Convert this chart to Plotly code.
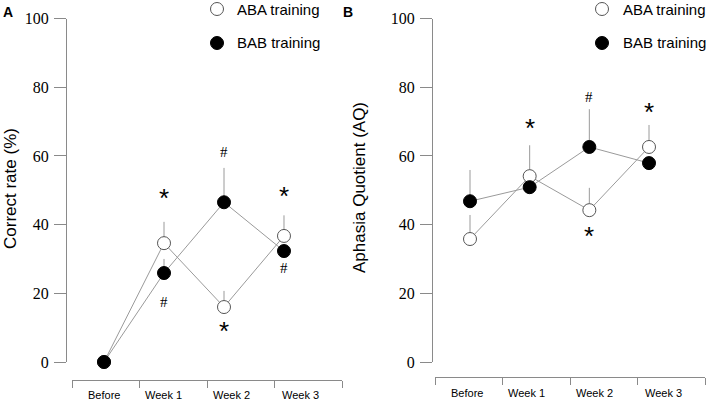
import plotly.graph_objects as go

# x positions of the sessions on the hidden data axis
sessions = [0, 1, 2, 3]
session_labels = ["Before", "Week 1", "Week 2", "Week 3"]
label_pos = [0.47, 1.35, 2.37, 3.39]   # where the category labels sit on the bracket axis
series_names = ["ABA training", "BAB training"]

# Panel A: correct rate (%)
a_aba = [0, 34.6, 16.0, 36.7]
a_aba_err = [0, 6.2, 4.7, 6.0]
a_bab = [0, 25.9, 46.5, 32.3]
a_bab_err = [0, 4.1, 10.0, 0]

# Panel B: aphasia quotient
b_aba = [35.8, 54.1, 44.2, 62.6]
b_aba_err = [7.0, 9.0, 6.5, 6.4]
b_bab = [46.8, 50.9, 62.6, 57.9]
b_bab_err = [9.1, 0, 11.0, 0]

# significance marks: (x, y, symbol)
a_marks = [(1, 48.6, "*"), (1, 17.5, "#"), (2, 61.1, "#"), (2, 9.9, "*"), (3, 49.2, "*"), (3, 27.4, "#")]
b_marks = [(1, 69.0, "*"), (2, 77.1, "#"), (3, 73.7, "*"), (2, 37.6, "*")]

W, H = 708, 401
LINE = "#9a9a9a"
AXIS = "#8a8a8a"
EDGE = "#555555"
SANS = "Liberation Sans"
SERIF = "Liberation Serif"


def px(v):
    return v / W


def py(v):
    return 1 - v / H


fig = go.Figure()


def add_panel(xa, ya, aba, aba_err, bab, bab_err):
    for vals in (aba, bab):
        fig.add_trace(go.Scatter(
            x=sessions, y=vals, mode="lines", line=dict(color=LINE, width=1),
            xaxis=xa, yaxis=ya, hoverinfo="skip", cliponaxis=False))
    fig.add_trace(go.Scatter(
        x=sessions, y=aba, mode="markers", name=series_names[0],
        marker=dict(size=13, color="white", line=dict(color=EDGE, width=1)),
        error_y=dict(type="data", symmetric=False, array=aba_err, arrayminus=[0] * 4,
                     width=0, thickness=1, color=LINE),
        xaxis=xa, yaxis=ya, cliponaxis=False))
    fig.add_trace(go.Scatter(
        x=sessions, y=bab, mode="markers", name=series_names[1],
        marker=dict(size=13, color="black", line=dict(color="black", width=1)),
        error_y=dict(type="data", symmetric=False, array=bab_err, arrayminus=[0] * 4,
                     width=0, thickness=1, color=LINE),
        xaxis=xa, yaxis=ya, cliponaxis=False))


add_panel("x", "y", a_aba, a_aba_err, a_bab, a_bab_err)
add_panel("x2", "y2", b_aba, b_aba_err, b_bab, b_bab_err)

# empty traces so the bracket axes get drawn (on their own hidden y axis)
fig.add_trace(go.Scatter(x=[], y=[], xaxis="x3", yaxis="y3"))
fig.add_trace(go.Scatter(x=[], y=[], xaxis="x4", yaxis="y3"))

yax = dict(range=[0, 100], tickvals=[0, 20, 40, 60, 80, 100], ticks="outside", ticklen=12,
           tickcolor=AXIS, showline=True, linecolor=AXIS, linewidth=1, showgrid=False,
           zeroline=False, tickfont=dict(family=SERIF, size=16, color="black"),
           ticklabelstandoff=2, automargin=False, domain=[py(362), py(18.5)])
hidden_x = dict(showline=False, showgrid=False, zeroline=False, showticklabels=False,
                ticks="", automargin=False)
bracket = dict(range=[0, 4], tickvals=[0, 1, 2, 3, 4], ticks="outside", ticklen=7,
               tickcolor=AXIS, showline=True, linecolor=AXIS, showgrid=False,
               zeroline=False, showticklabels=False, anchor="free", automargin=False)

fig.update_layout(
    width=W, height=H,
    margin=dict(l=0, r=0, t=0, b=0, autoexpand=False),
    paper_bgcolor="white", plot_bgcolor="rgba(0,0,0,0)",
    font=dict(family=SANS, color="black"),
    showlegend=False,
    xaxis=dict(hidden_x, domain=[px(67), px(342)], range=[-0.617, 3.967], anchor="y"),
    yaxis=dict(yax, anchor="x"),
    xaxis2=dict(hidden_x, domain=[px(433), px(706)], range=[-0.62, 3.955], anchor="y2"),
    yaxis2=dict(yax, anchor="x2"),
    xaxis3=dict(bracket, domain=[px(72), px(342)], position=py(380)),
    xaxis4=dict(bracket, domain=[px(435), px(705)], position=py(377)),
    yaxis3=dict(domain=[0, 0.04], visible=False, anchor="free", position=0),
)

ann = []
for xref, yref, marks in (("x", "y", a_marks), ("x2", "y2", b_marks)):
    for xv, yv, s in marks:
        if s == "*":
            ann.append(dict(x=xv, y=yv, xref=xref, yref=yref, text="*", showarrow=False,
                            xanchor="center", yanchor="middle",
                            font=dict(family=SANS, size=26, color="black"), yshift=-3))
        else:
            ann.append(dict(x=xv, y=yv, xref=xref, yref=yref, text="#", showarrow=False,
                            xanchor="center", yanchor="middle",
                            font=dict(family=SERIF, size=15, color="black")))

for xref, ylab in (("x3", 395), ("x4", 393)):
    for lp, lab in zip(label_pos, session_labels):
        ann.append(dict(x=lp, y=py(ylab), xref=xref, yref="paper", text=lab, showarrow=False,
                        xanchor="center", yanchor="middle",
                        font=dict(family=SANS, size=11, color="black")))

# hand-placed legends: symbol centre x, text start x, rows at y=9 and y=43
shapes = []
for sx, tx in ((217, 235), (602, 621)):
    for row_y, name, fill, edge in ((9, series_names[0], "white", EDGE),
                                    (43, series_names[1], "black", "black")):
        shapes.append(dict(type="circle", xref="paper", yref="paper",
                           x0=px(sx - 6.5), x1=px(sx + 6.5), y0=py(row_y + 6.5), y1=py(row_y - 6.5),
                           fillcolor=fill, line=dict(color=edge, width=1)))
        ann.append(dict(x=px(tx), y=py(row_y), xref="paper", yref="paper", text=name,
                        showarrow=False, xanchor="left", yanchor="middle",
                        font=dict(size=15, family=SANS, color="black")))

ann += [
    dict(x=px(10), y=py(189), xref="paper", yref="paper", text="Correct rate (%)", textangle=-90,
         xanchor="center", yanchor="middle", showarrow=False, font=dict(size=17, family=SANS)),
    dict(x=px(359), y=py(188), xref="paper", yref="paper", text="Aphasia Quotient (AQ)",
         xanchor="center", yanchor="middle", textangle=-90, showarrow=False,
         font=dict(size=17, family=SANS)),
    dict(x=px(8), y=py(12), xref="paper", yref="paper", text="<b>A</b>", showarrow=False,
         xanchor="center", yanchor="middle", font=dict(size=14, family=SANS)),
    dict(x=px(348), y=py(12), xref="paper", yref="paper", text="<b>B</b>", showarrow=False,
         xanchor="center", yanchor="middle", font=dict(size=14, family=SANS)),
]
fig.update_layout(annotations=ann, shapes=shapes)

# the page's default 8px body margin would push the 708x401 figure out of the window
fig.write_html("out.html", config={"displayModeBar": False},
               post_script="document.body.style.margin='0px';")
